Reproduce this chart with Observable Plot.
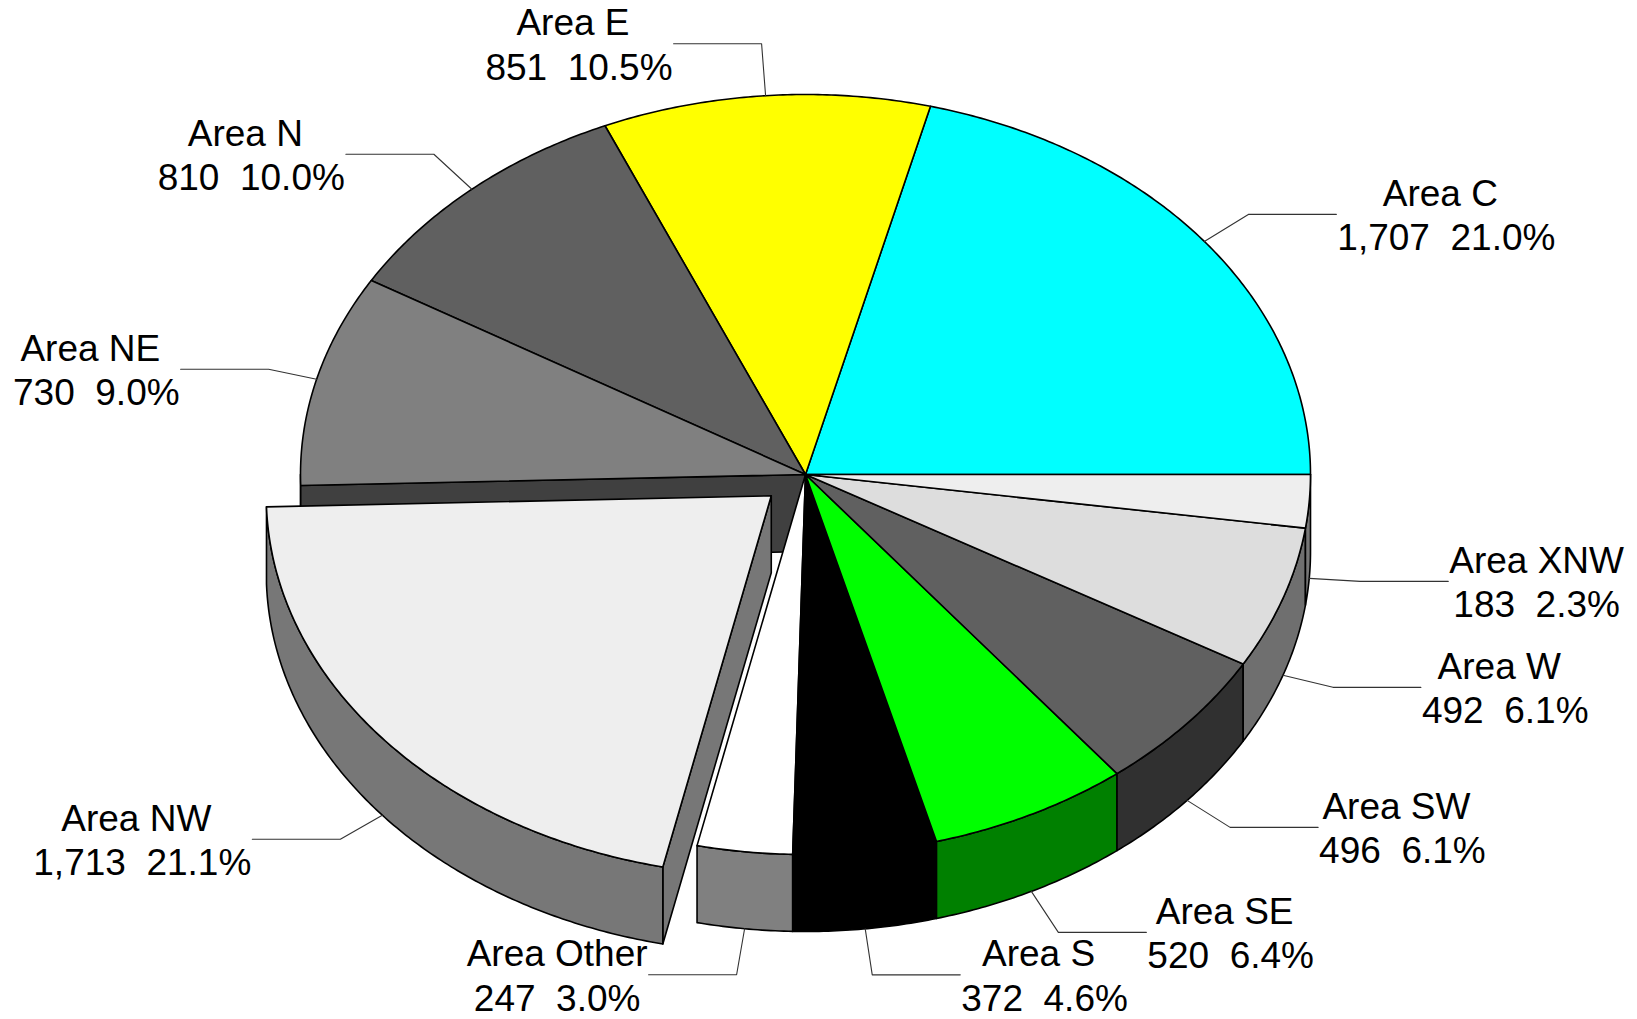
<!DOCTYPE html>
<html><head><meta charset="utf-8">
<script src="https://cdn.jsdelivr.net/npm/d3@7"></script>
<script src="https://cdn.jsdelivr.net/npm/@observablehq/plot@0.6"></script>
<style>
html,body{margin:0;padding:0;background:#fff;}
svg text{white-space:pre;}
</style></head><body><div id="chart"></div>
<script>
// ---- data ----
const categories = ["Area C","Area E","Area N","Area NE","Area NW","Area Other","Area S","Area SE","Area SW","Area W","Area XNW"];
const values = [1707,851,810,730,1713,247,372,520,496,492,183];
const topColors = ["#00ffff","#ffff00","#606060","#808080","#eeeeee","#ffffff","#000000","#00ff00","#606060","#dddddd","#eeeeee"];
const explodedSlices = ["Area NW"];

// ---- layout (styling, not data) ----
const W = 1637, H = 1019;
const geom = {cx: 805, cy: 474, rx: 505, ry: 380, depth: 77, explode: 0.088};
// leader elbow offset from the rim point, and side of the horizontal run
const labelLayout = {
  "Area C": [44, -27, 1], "Area E": [-4, -52, -1], "Area N": [-38, -35, -1], "Area NE": [-48, -10, -1],
  "Area NW": [-42, 24, -1], "Area Other": [-8, 46, -1], "Area S": [7, 46, 1], "Area SE": [27, 41, 1],
  "Area SW": [43, 27, 1], "Area W": [50, 12, 1], "Area XNW": [51, 3, 1]
};
const runLength = 88;
const fontSize = 37, lineGap = 44.4, fontFamily = "'Liberation Sans', Arial, Helvetica, sans-serif";

const rad = d => d * Math.PI / 180;
const total = d3.sum(values);
let acc = 0;
const slices = categories.map((name, i) => {
  const a0 = acc / total * 360; acc += values[i]; const a1 = acc / total * 360;
  const mid = (a0 + a1) / 2;
  const ex = explodedSlices.includes(name);
  const top = topColors[i];
  const c = d3.rgb(top);
  const side = d3.rgb(c.r * 0.5, c.g * 0.5, c.b * 0.5).formatHex();
  return {name, value: values[i], a0, a1, mid, ex, top, side,
    ox: ex ? geom.explode * geom.rx * Math.cos(rad(mid)) : 0,
    oy: ex ? -geom.explode * geom.ry * Math.sin(rad(mid)) : 0};
});

function P(s, th, r, z) {
  return [geom.cx + s.ox + geom.rx * r * Math.cos(rad(th)), geom.cy + s.oy - geom.ry * r * Math.sin(rad(th)) + z];
}
function arc(s, from, to, z) {
  const n = Math.max(2, Math.ceil(Math.abs(to - from) / 0.5));
  return d3.range(n + 1).map(k => P(s, from + (to - from) * k / n, 1, z));
}
const polys = [];
let pid = 0;
function addPoly(pts, fill) { const id = "p" + (pid++); pts.forEach(([x, y]) => polys.push({poly: id, x, y, fill})); }
function topFace(s) { addPoly([P(s, 0, 0, 0), ...arc(s, s.a0, s.a1, 0)], s.top); }
function wall(s) {
  const lo = Math.max(s.a0, 180), hi = Math.min(s.a1, 360);
  if (hi > lo) addPoly([...arc(s, lo, hi, 0), ...arc(s, hi, lo, geom.depth)], s.side);
}
function face(s, th) { addPoly([P(s, th, 0, 0), P(s, th, 1, 0), P(s, th, 1, geom.depth), P(s, th, 0, geom.depth)], s.side); }
const startVisible = th => Math.cos(rad(th)) > 0;
const endVisible = th => Math.cos(rad(th)) < 0;

// layer 1: walls of the body + faces exposed by the gap
slices.forEach((s, i) => {
  if (s.ex) return;
  wall(s);
  const prev = slices[(i - 1 + slices.length) % slices.length], next = slices[(i + 1) % slices.length];
  if (next.ex && endVisible(s.a1)) face(s, s.a1);
  if (prev.ex && startVisible(s.a0)) face(s, s.a0);
});
// layer 2: top faces of the body
slices.forEach(s => { if (!s.ex) topFace(s); });
// layer 3: exploded slices
slices.forEach(s => {
  if (!s.ex) return;
  if (startVisible(s.a0)) face(s, s.a0);
  if (endVisible(s.a1)) face(s, s.a1);
  wall(s);
  topFace(s);
});

// leaders and labels
const fmt = d3.format(",");
const canvas = document.createElement("canvas").getContext("2d");
canvas.font = `${fontSize}px ${fontFamily}`;
const leaders = [], nameLabels = [], valueLabels = [];
slices.forEach(s => {
  const front = s.mid > 180 && s.mid < 360;
  const [rx0, ry0] = P(s, s.mid, 1, front ? geom.depth : 0);
  const [dx, dy, dir] = labelLayout[s.name];
  const ex = rx0 + dx, ey = ry0 + dy, endX = ex + dir * runLength;
  [[rx0, ry0], [ex, ey], [endX, ey]].forEach(([x, y]) => leaders.push({id: s.name, x, y}));
  const pct = (s.value / total * 100).toFixed(1) + "%";
  const line2 = `${fmt(s.value)}  ${pct}`;
  const w1 = canvas.measureText(s.name).width, w2 = canvas.measureText(line2).width;
  const bw = Math.max(w1, w2);
  const cx = endX + dir * (1 + bw / 2);
  nameLabels.push({x: cx - (w2 > w1 ? 6 : 0), y: ey + 36 - lineGap, text: s.name});
  valueLabels.push({x: cx, y: ey + 36, text: line2});
});

const textOpts = {x: "x", y: "y", text: "text", textAnchor: "middle", lineAnchor: "bottom", fontSize, fontFamily, fill: "#000"};
const chart = Plot.plot({
  width: W, height: H, margin: 0,
  x: {domain: [0, W], range: [0, W], axis: null},
  y: {domain: [0, H], range: [0, H], axis: null},
  color: {type: "identity"},
  marks: [
    Plot.line(polys, {x: "x", y: "y", z: "poly", fill: "fill", stroke: "#000", strokeWidth: 1.6, strokeLinejoin: "round", curve: "linear-closed"}),
    Plot.line(leaders, {x: "x", y: "y", z: "id", stroke: "#333", strokeWidth: 1.1}),
    Plot.text(nameLabels, textOpts),
    Plot.text(valueLabels, textOpts)
  ]
});
document.getElementById("chart").appendChild(chart);
</script></body></html>
